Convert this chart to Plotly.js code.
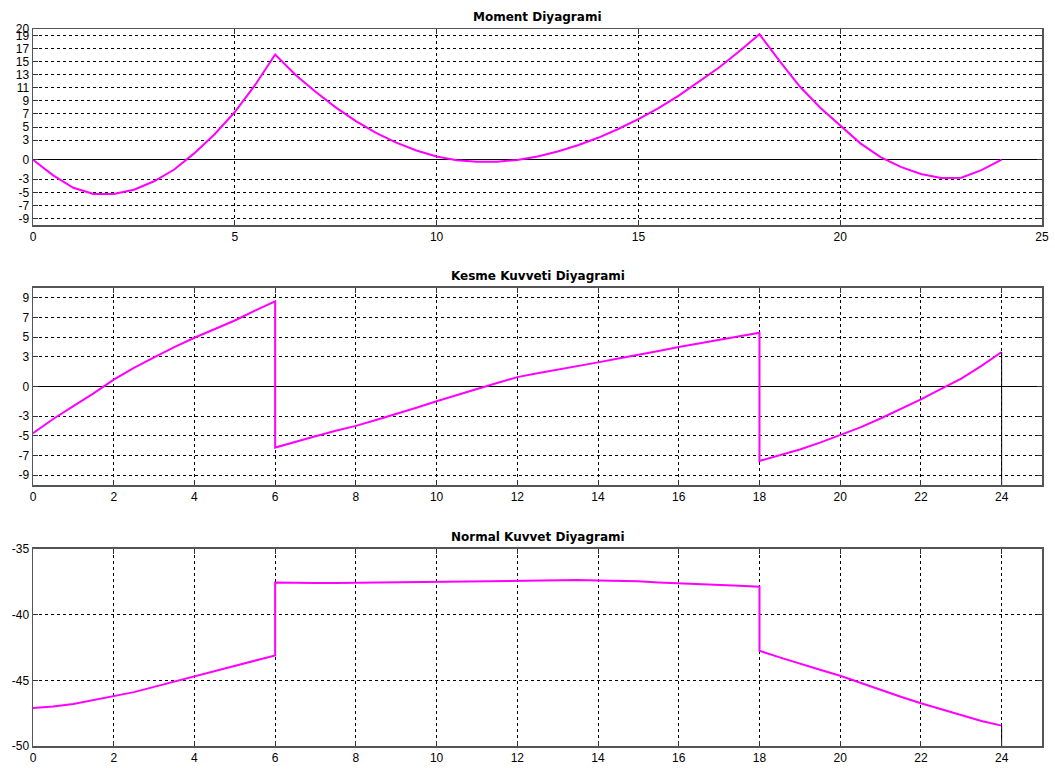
<!DOCTYPE html>
<html>
<head>
<meta charset="utf-8">
<script src="https://cdn.plot.ly/plotly-3.0.1.min.js"></script>
<style>
  html, body { margin: 0; padding: 0; background: #ffffff; }
  #chart { width: 1055px; height: 769px; }
</style>
</head>
<body>
<div id="chart"></div>
<script>
// ---- data ----
const titles = ["Moment Diyagrami", "Kesme Kuvveti Diyagrami", "Normal Kuvvet Diyagrami"];

const span1X = [0, 0.5, 1, 1.5, 2, 2.5, 3, 3.5, 4, 4.5, 5, 5.5, 6];
const span2X = [6, 6.5, 7, 7.5, 8, 8.5, 9, 9.5, 10, 10.5, 11, 11.5, 12, 12.5, 13, 13.5, 14, 14.5, 15, 15.5, 16, 16.5, 17, 17.5, 18];
const span3X = [18, 18.5, 19, 19.5, 20, 20.5, 21, 21.5, 22, 22.5, 23, 23.5, 24];

const moment1 = [0, -2.4, -4.3, -5.25, -5.25, -4.6, -3.3, -1.5, 1.0, 3.9, 7.3, 11.4, 16.1];
const moment2 = [16.1, 13.0, 10.4, 8.0, 5.9, 4.1, 2.6, 1.4, 0.5, -0.1, -0.3, -0.3, -0.05, 0.5, 1.25, 2.2, 3.35, 4.7, 6.2, 7.9, 9.8, 11.9, 14.1, 16.6, 19.2];
const moment3 = [19.2, 15.1, 11.2, 8.0, 5.2, 2.5, 0.4, -1.1, -2.2, -2.8, -2.75, -1.6, 0];

const shear1 = [-4.75, -3.3, -2.0, -0.7, 0.7, 1.9, 2.95, 4.0, 4.95, 5.8, 6.7, 7.7, 8.65];
const shear2 = [-6.2, -5.6, -5.05, -4.5, -4.0, -3.4, -2.8, -2.15, -1.5, -0.85, -0.25, 0.35, 0.95, 1.35, 1.7, 2.1, 2.45, 2.85, 3.2, 3.6, 4.0, 4.35, 4.7, 5.1, 5.45];
const shear3 = [-7.55, -7.0, -6.4, -5.7, -4.95, -4.15, -3.25, -2.3, -1.3, -0.25, 0.8, 2.1, 3.5];

const normal1 = [-47.1, -47.0, -46.8, -46.5, -46.2, -45.9, -45.5, -45.1, -44.7, -44.3, -43.9, -43.5, -43.1];
const normal2 = [-37.55, -37.6, -37.6, -37.6, -37.58, -37.55, -37.52, -37.5, -37.48, -37.46, -37.44, -37.42, -37.4, -37.38, -37.35, -37.37, -37.4, -37.42, -37.46, -37.55, -37.6, -37.66, -37.72, -37.8, -37.88];
const normal3 = [-42.75, -43.25, -43.75, -44.2, -44.65, -45.2, -45.75, -46.25, -46.75, -47.2, -47.65, -48.1, -48.45];

const momentTicks = [-9, -7, -5, -3, 0, 3, 5, 7, 9, 11, 13, 15, 17, 19, 20];
const shearTicks = [-9, -7, -5, -3, 0, 3, 5, 7, 9];
const normalTicks = [-50, -45, -40, -35];
const xTicksTop = [0, 5, 10, 15, 20, 25];
const xTicksLower = [0, 2, 4, 6, 8, 10, 12, 14, 16, 18, 20, 22, 24];

const momentRange = [-10, 20];
const shearRange = [-10, 10];
const normalRange = [-50, -35];
const xRange = [0, 25];

// ---- build ----
const allX = span1X.concat(span2X, span3X);
const mag = '#FF00FF';
function line(x, y, xa, ya) {
  return { x: x, y: y, xaxis: xa, yaxis: ya, type: 'scatter', mode: 'lines',
           line: { color: mag, width: 2 }, hoverinfo: 'skip', showlegend: false };
}
const traces = [
  line(allX, moment1.concat(moment2, moment3), 'x', 'y'),
  line(allX, shear1.concat(shear2, shear3), 'x2', 'y2'),
  line(allX, normal1.concat(normal2, normal3), 'x3', 'y3'),
  { x: [span3X[span3X.length - 1], span3X[span3X.length - 1]],
    y: [shear3[shear3.length - 1], shearRange[0]], xaxis: 'x2', yaxis: 'y2',
    type: 'scatter', mode: 'lines', line: { color: '#000000', width: 1 }, showlegend: false },
  { x: [span3X[span3X.length - 1], span3X[span3X.length - 1]],
    y: [normal3[normal3.length - 1], normalRange[0]], xaxis: 'x3', yaxis: 'y3',
    type: 'scatter', mode: 'lines', line: { color: '#000000', width: 1 }, showlegend: false }
];

const font = { family: 'Liberation Sans, Arial, sans-serif', size: 12, color: '#000000' };
function xax(ticks, anchor) {
  return { range: xRange, tickvals: ticks, ticktext: ticks.map(String), anchor: anchor,
           showgrid: true, gridcolor: '#000000', gridwidth: 1, griddash: '3px,3px',
           zeroline: false, showline: true, linecolor: '#555555', linewidth: 1.5, mirror: 'ticks',
           ticks: 'inside', ticklen: 5, tickcolor: '#333333', tickfont: font, automargin: false };
}
function yax(range, ticks, domain, anchor, zero) {
  return { range: range, tickvals: ticks, ticktext: ticks.map(String), domain: domain, anchor: anchor,
           showgrid: true, gridcolor: '#000000', gridwidth: 1, griddash: '3px,3px',
           zeroline: zero, zerolinecolor: '#000000', zerolinewidth: 1,
           showline: true, linecolor: '#555555', linewidth: 1.5, mirror: 'ticks',
           ticks: 'inside', ticklen: 5, tickcolor: '#333333', tickfont: font, automargin: false };
}
const d1 = [0.7266, 1], d2 = [0.364, 0.6388], d3 = [0, 0.2748];
const layout = {
  width: 1055, height: 769,
  margin: { l: 33, r: 13, t: 29, b: 23 },
  paper_bgcolor: '#ffffff', plot_bgcolor: '#ffffff',
  showlegend: false,
  xaxis: xax(xTicksTop, 'y'),
  yaxis: yax(momentRange, momentTicks, d1, 'x', true),
  xaxis2: xax(xTicksLower, 'y2'),
  yaxis2: yax(shearRange, shearTicks, d2, 'x2', true),
  xaxis3: xax(xTicksLower, 'y3'),
  yaxis3: yax(normalRange, normalTicks, d3, 'x3', false),
  annotations: [d1, d2, d3].map((d, i) => ({
    text: '<b>' + titles[i] + '</b>', xref: 'paper', yref: 'paper', x: 0.5, y: d[1],
    xanchor: 'center', yanchor: 'bottom', yshift: 3, showarrow: false,
    font: { family: 'DejaVu Sans, sans-serif', size: 12, color: '#000000' }
  }))
};
Plotly.newPlot('chart', traces, layout, { staticPlot: true, displayModeBar: false });
</script>
</body>
</html>
